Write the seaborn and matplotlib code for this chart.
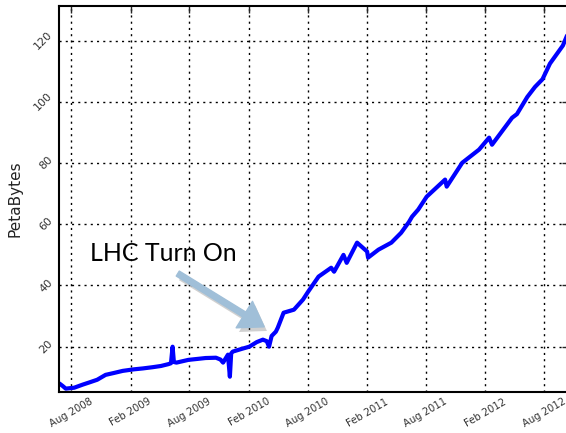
import matplotlib
matplotlib.use("Agg")
import matplotlib.pyplot as plt
import matplotlib.dates as mdates
import matplotlib.patheffects as pe
import pandas as pd
import seaborn as sns

# cumulative data volume
dates = [
    "2008-06-25", "2008-07-05", "2008-07-15", "2008-08-10", "2008-09-05",
    "2008-09-25", "2008-10-20", "2008-11-15", "2008-12-10", "2009-01-07",
    "2009-02-10", "2009-03-10", "2009-04-09", "2009-05-05", "2009-05-28",
    "2009-06-05", "2009-06-10", "2009-06-14", "2009-06-22", "2009-07-29",
    "2009-08-25", "2009-09-20", "2009-10-22", "2009-11-05", "2009-11-13",
    "2009-11-28", "2009-12-04", "2009-12-08", "2009-12-13", "2010-01-10",
    "2010-02-02", "2010-02-25", "2010-03-16", "2010-03-28", "2010-04-04",
    "2010-04-12", "2010-04-25", "2010-05-01", "2010-05-19", "2010-06-20",
    "2010-07-18", "2010-08-03", "2010-09-04", "2010-10-13", "2010-10-22",
    "2010-11-20", "2010-11-30", "2011-01-01", "2011-02-01", "2011-02-04",
    "2011-03-08", "2011-04-17", "2011-05-17", "2011-06-10", "2011-06-20",
    "2011-07-09", "2011-08-04", "2011-09-30", "2011-10-05", "2011-11-22",
    "2012-01-13", "2012-02-13", "2012-02-22", "2012-04-24", "2012-05-09",
    "2012-06-10", "2012-07-04", "2012-07-27", "2012-08-19", "2012-09-28",
    "2012-10-16",
]
petabytes = [
    8.0, 7.2, 6.3, 6.6, 7.6,
    8.3, 9.2, 10.8, 11.4, 12.1,
    12.6, 12.9, 13.3, 13.7, 14.3,
    14.6, 20.0, 15.0, 14.8, 15.7,
    16.0, 16.3, 16.4, 15.8, 14.8,
    17.4, 10.2, 17.8, 18.4, 19.3,
    20.0, 21.5, 22.3, 21.8, 20.0,
    23.5, 24.9, 26.2, 31.1, 32.1,
    35.4, 38.0, 42.9, 45.8, 44.5,
    50.0, 47.4, 54.0, 51.1, 49.1,
    51.7, 54.0, 57.2, 60.7, 62.5,
    64.8, 69.0, 74.6, 72.3, 80.1,
    84.4, 88.3, 86.0, 94.8, 96.0,
    101.6, 104.9, 107.4, 112.5, 118.4,
    123.0,
]
y_ticks = [20, 40, 60, 80, 100, 120]

df = pd.DataFrame({"date": pd.to_datetime(dates), "pb": petabytes})

sns.set_style("white")
fig = plt.figure(figsize=(5.66, 4.33), dpi=100)
ax = fig.add_axes([0.1048, 0.0954, 0.9, 0.8906])

sns.lineplot(data=df, x="date", y="pb", color="#0000ff", linewidth=3, ax=ax)

ax.set_xlim(pd.Timestamp("2008-06-25"), pd.Timestamp("2012-10-16"))
ax.set_ylim(5.3, 131.3)

ax.xaxis.set_major_locator(mdates.MonthLocator(bymonth=[2, 8]))
ax.xaxis.set_major_formatter(mdates.DateFormatter("%b %Y"))
ax.set_yticks(y_ticks)

ax.grid(True, color="black", linestyle=(0, (1.5, 3)), linewidth=1.0)
for s in ax.spines.values():
    s.set_color("black")
    s.set_linewidth(1.5)

ax.tick_params(direction="in", length=5, width=1, top=True, right=True,
               labelcolor="#333333")
ax.tick_params(axis="x", labelsize=7.2)
ax.tick_params(axis="y", labelsize=8)
plt.setp(ax.get_xticklabels(), rotation=30, ha="center")
plt.setp(ax.get_yticklabels(), rotation=45, va="center")
ax.set_xlabel("")
ax.set_ylabel("PetaBytes", fontsize=11, color="#222222", labelpad=7)

ax.annotate("", xy=(pd.Timestamp("2010-03-20"), 26.5),
            xytext=(pd.Timestamp("2009-06-26"), 43.9),
            arrowprops=dict(arrowstyle="simple,head_length=1.2,head_width=1.6,tail_width=0.3",
                            color="#a0bfd8", mutation_scale=14, shrinkA=0, shrinkB=0,
                            path_effects=[pe.SimplePatchShadow(offset=(2, -3), shadow_rgbFace="#666666",
                                                               alpha=0.3),
                                          pe.Normal()]))
ax.text(pd.Timestamp("2008-09-29"), 50.4, "LHC Turn On", fontsize=18,
        family=["Lato", "DejaVu Sans"], va="center", ha="left", color="black")

fig.savefig("out.png", dpi=100)
